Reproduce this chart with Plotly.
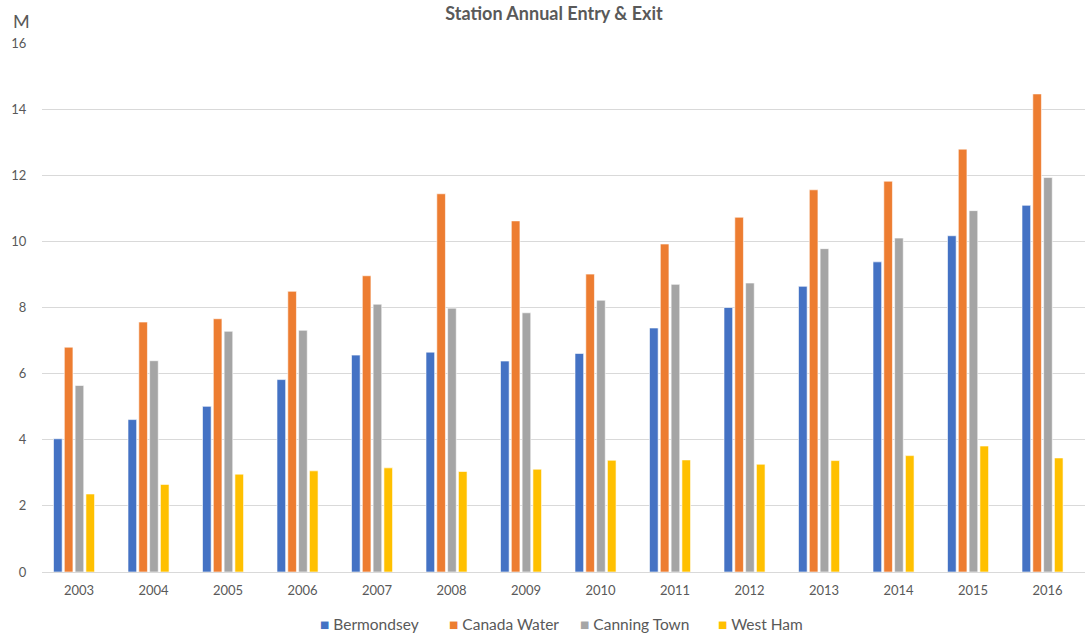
import plotly.graph_objects as go

years = ["2003", "2004", "2005", "2006", "2007", "2008", "2009",
         "2010", "2011", "2012", "2013", "2014", "2015", "2016"]

bermondsey = [4.03, 4.61, 5.01, 5.82, 6.56, 6.65, 6.38,
              6.61, 7.38, 8.00, 8.64, 9.38, 10.17, 11.09]
canada_water = [6.80, 7.56, 7.66, 8.49, 8.96, 11.44, 10.62,
                9.01, 9.92, 10.73, 11.56, 11.82, 12.79, 14.46]
canning_town = [5.64, 6.39, 7.28, 7.31, 8.10, 7.98, 7.84,
                8.22, 8.70, 8.74, 9.78, 10.10, 10.93, 11.93]
west_ham = [2.36, 2.65, 2.96, 3.06, 3.15, 3.04, 3.11,
            3.38, 3.39, 3.26, 3.37, 3.52, 3.81, 3.45]

series = [
    ("Bermondsey", bermondsey, "#4472C4"),
    ("Canada Water", canada_water, "#ED7D31"),
    ("Canning Town", canning_town, "#A5A5A5"),
    ("West Ham", west_ham, "#FFC000"),
]

FONT = "Lato, 'Open Sans', sans-serif"
TEXT = "#595959"

fig = go.Figure()
for name, vals, color in series:
    fig.add_trace(go.Bar(
        x=list(range(len(years))), y=vals, name=name,
        marker=dict(color=color, line=dict(color="white", width=0.6)),
        showlegend=False,
    ))

W, H = 1085, 635
left, right, top, bottom = 42, 0, 43, 63

fig.update_layout(
    width=W, height=H,
    margin=dict(l=left, r=right, t=top, b=bottom),
    paper_bgcolor="white", plot_bgcolor="white",
    barmode="group", bargap=0.42, bargroupgap=0.2,
    font=dict(family=FONT, color=TEXT, size=13),
    title=dict(text="<b>Station Annual Entry & Exit</b>",
               xref="container", x=554 / W, xanchor="center",
               yref="container", y=1 - 14 / H, yanchor="middle",
               font=dict(size=18, color=TEXT, family=FONT)),
)

fig.update_xaxes(
    tickmode="array", tickvals=list(range(len(years))), ticktext=years,
    range=[-0.5 + 0.07, len(years) - 0.5 + 0.07],
    showgrid=False, showline=False, zeroline=False,
    ticks="outside", ticklen=6, tickcolor="white",
    ticklabelshift=5,
    tickfont=dict(size=13, color=TEXT, family=FONT),
)
fig.update_yaxes(
    range=[0, 16], dtick=2, tick0=0,
    showgrid=True, gridcolor="#D9D9D9", gridwidth=1,
    zeroline=True, zerolinecolor="#D9D9D9", zerolinewidth=1,
    showline=False,
    ticks="outside", ticklen=12, tickcolor="rgba(0,0,0,0)",
    tickfont=dict(size=13, color=TEXT, family=FONT),
)

# unit label above the value axis
fig.add_annotation(text="M", xref="paper", yref="paper",
                   x=0, y=1, xshift=-21, yshift=22,
                   xanchor="center", yanchor="middle",
                   showarrow=False,
                   font=dict(size=18, color=TEXT, family=FONT))

# legend row along the bottom: coloured square followed by series name
legend_left = [318, 447, 578, 716]
for (name, _, color), px in zip(series, legend_left):
    fig.add_annotation(
        text=f"<span style='color:{color}'>■</span> {name}",
        xref="paper", yref="paper",
        x=(px - left) / (W - left - right), y=0,
        yshift=-(624 - (H - bottom)),
        xanchor="left", yanchor="middle", showarrow=False,
        font=dict(size=15.5, color=TEXT, family=FONT),
    )

fig.write_html("out.html")
